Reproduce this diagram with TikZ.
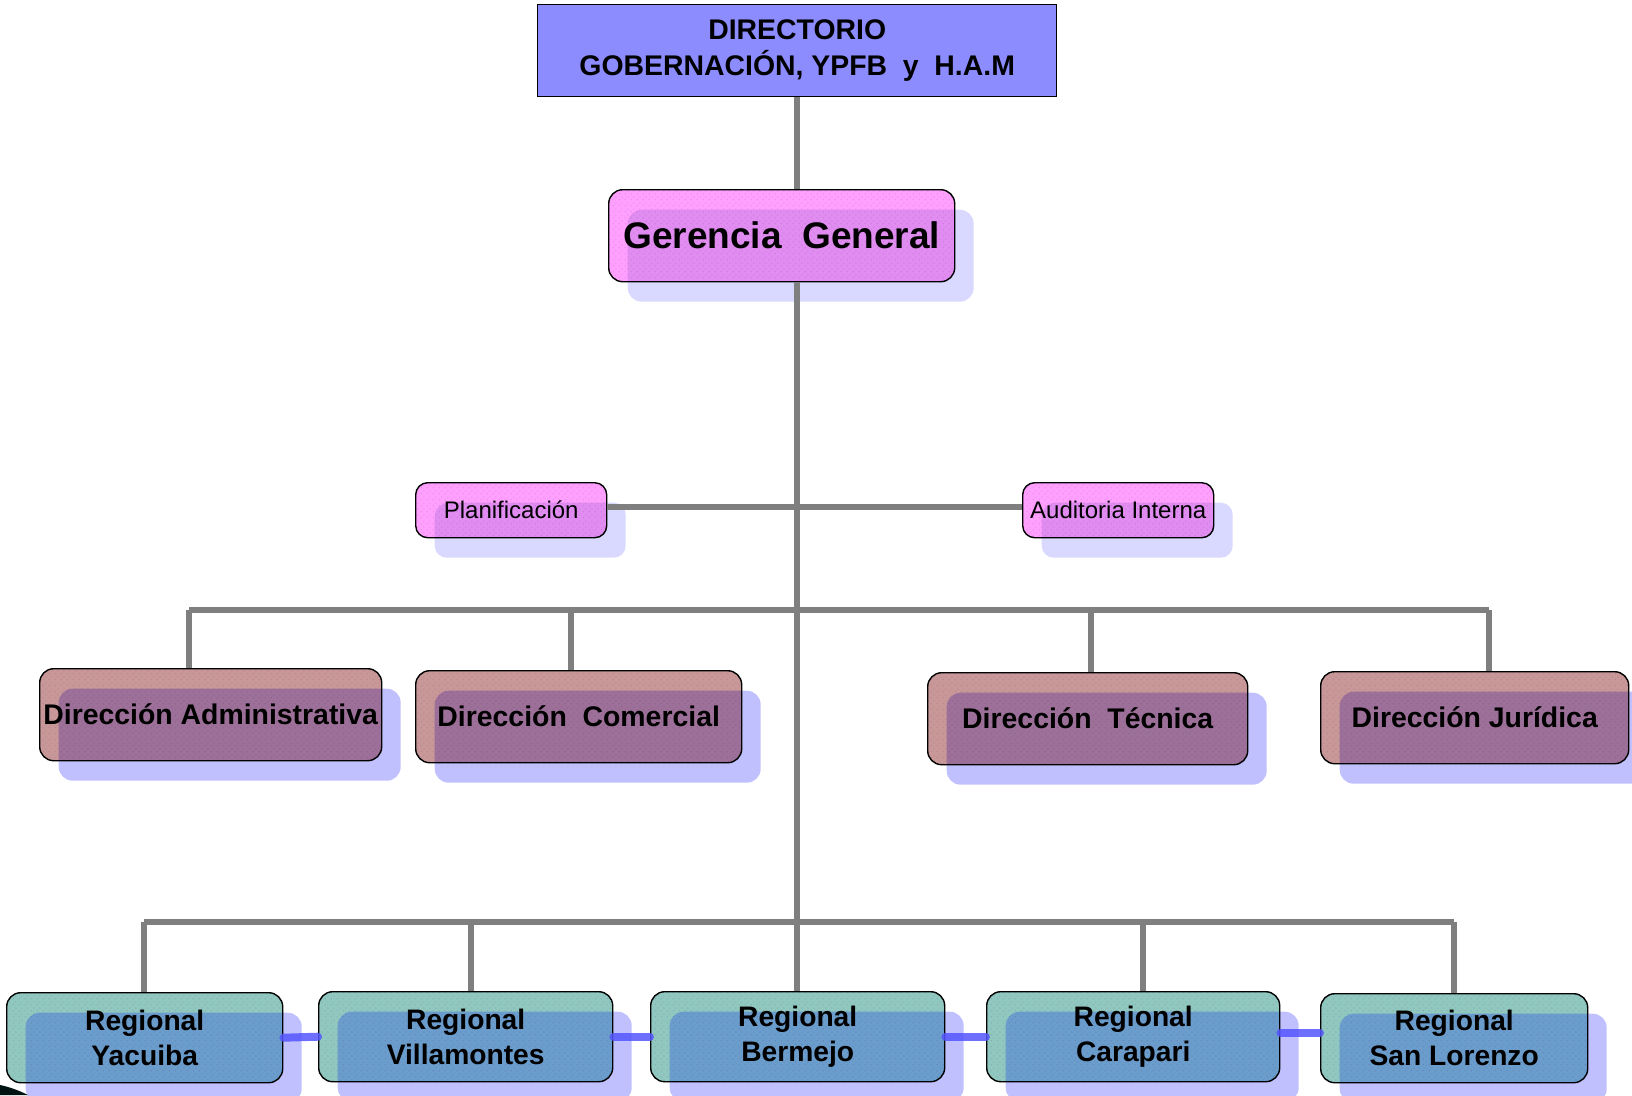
\documentclass[tikz,border=0pt]{standalone}
\usepackage{fontspec}
\setmainfont{Liberation Sans}
\usetikzlibrary{shadows,patterns}
\definecolor{dirfill}{HTML}{8C8CFF}
\definecolor{gTop}{HTML}{FFA0FF}
\definecolor{gOv}{HTML}{E08CF0}
\definecolor{gSh}{HTML}{D9D9FF}
\definecolor{dTop}{HTML}{C89898}
\definecolor{dOv}{HTML}{9C7098}
\definecolor{sSh}{HTML}{C0C0FF}
\definecolor{rTop}{HTML}{90C8C0}
\definecolor{rOv}{HTML}{6A9CCC}
\definecolor{lineGray}{HTML}{7F7F7F}
\definecolor{linkBlue}{HTML}{5555FF}
\pgfdeclarepatternformonly{sparsedots}{\pgfpointorigin}{\pgfpoint{6pt}{6pt}}{\pgfpoint{6pt}{6pt}}{%
  \pgfpathcircle{\pgfpoint{1.5pt}{1.5pt}}{0.8pt}%
  \pgfpathcircle{\pgfpoint{4.5pt}{4.5pt}}{0.8pt}%
  \pgfusepath{fill}}
\tikzset{
  orgbox/.style n args={4}{anchor=north west, draw=black, line width=1.4pt,
    rounded corners=#4, inner sep=0pt, align=center, fill=#1,
    minimum width=#2, minimum height=#3},
  shadowed/.style 2 args={general shadow={fill=#2, shadow xshift=19pt, shadow yshift=-20pt},
    path picture={\fill[#1, rounded corners=14pt]
      ([shift={(19pt,-20pt)}]path picture bounding box.south west) rectangle
      ([shift={(19pt,-20pt)}]path picture bounding box.north east);
      \fill[pattern=sparsedots, pattern color=black!70!magenta, opacity=0.13]
      (path picture bounding box.south west) rectangle (path picture bounding box.north east);}},
  bigtxt/.style={font=\fontsize{28.4}{36}\selectfont\bfseries},
  gertxt/.style={font=\fontsize{37}{44}\selectfont\bfseries},
  smalltxt/.style={font=\fontsize{24}{29}\selectfont},
  regtxt/.style={font=\fontsize{28.2}{35}\selectfont\bfseries},
  trunk/.style={draw=lineGray, line width=5.5pt},
  link/.style={draw=linkBlue, opacity=0.85, line width=8pt, line cap=round}
}
\begin{document}
\begin{tikzpicture}[x=1pt, y=-1pt]
\useasboundingbox (0,0) rectangle (1632,1095);
% top
\node[orgbox={dirfill}{519pt}{92pt}{0pt}, bigtxt] (dir) at (537,4) {DIRECTORIO\\GOBERNACIÓN, YPFB~ y~ H.A.M};
\node[orgbox={gTop}{346pt}{92pt}{14pt}, shadowed={gOv}{gSh}, gertxt] (ger) at (608,189) {Gerencia~ General};
% staff
\node[orgbox={gTop}{191pt}{55pt}{12pt}, shadowed={gOv}{gSh}, smalltxt] (plan) at (415,482) {Planificación};
\node[orgbox={gTop}{191pt}{55pt}{12pt}, shadowed={gOv}{gSh}, smalltxt] (aud) at (1022,482) {Auditoria Interna};
% direcciones
\node[orgbox={dTop}{342pt}{92pt}{14pt}, shadowed={dOv}{sSh}, bigtxt] (adm) at (39,668) {Dirección Administrativa};
\node[orgbox={dTop}{326pt}{92pt}{14pt}, shadowed={dOv}{sSh}, bigtxt] (com) at (415,670) {Dirección~ Comercial};
\node[orgbox={dTop}{320pt}{92pt}{14pt}, shadowed={dOv}{sSh}, bigtxt] (tec) at (927,672) {Dirección~ Técnica};
\node[orgbox={dTop}{308pt}{92pt}{14pt}, shadowed={dOv}{sSh}, bigtxt] (jur) at (1320,671) {Dirección Jurídica};
% regionales
\node[orgbox={rTop}{276pt}{90pt}{14pt}, shadowed={rOv}{sSh}, regtxt] (yac) at (6,992) {Regional\\Yacuiba};
\node[orgbox={rTop}{294pt}{90pt}{14pt}, shadowed={rOv}{sSh}, regtxt] (vil) at (318,991) {Regional\\Villamontes};
\node[orgbox={rTop}{294pt}{90pt}{14pt}, shadowed={rOv}{sSh}, regtxt] (ber) at (650,991) {Regional\\Bermejo};
\node[orgbox={rTop}{293pt}{90pt}{14pt}, shadowed={rOv}{sSh}, regtxt] (car) at (986,991) {Regional\\Carapari};
\node[orgbox={rTop}{267pt}{89pt}{14pt}, shadowed={rOv}{sSh}, regtxt] (slo) at (1320,993) {Regional\\San Lorenzo};
% bus coordinates
\coordinate (ua) at (189,610);
\coordinate (ub) at (571,610);
\coordinate (uc) at (1091,610);
\coordinate (ud) at (1489,610);
\coordinate (la) at (144,922);
\coordinate (lb) at (471,922);
\coordinate (ld) at (1143,922);
\coordinate (le) at (1454,922);
% gray connectors
\draw[trunk] (dir.south) -- (dir.south |- ger.north);
\draw[trunk] (dir.south |- ger.south) -- (dir.south |- ber.north);
\draw[trunk] ([yshift=3pt]plan.east) -- ([yshift=3pt]plan.east -| aud.west);
\draw[trunk] (ua) -- (ud);
\draw[trunk] (ua) -- (ua |- adm.north);
\draw[trunk] (ub) -- (ub |- com.north);
\draw[trunk] (uc) -- (uc |- tec.north);
\draw[trunk] (ud) -- (ud |- jur.north);
\draw[trunk] (la) -- (le);
\draw[trunk] (la) -- (la |- yac.north);
\draw[trunk] (lb) -- (lb |- vil.north);
\draw[trunk] (ld) -- (ld |- car.north);
\draw[trunk] (le) -- (le |- slo.north);
% blue links
\draw[link] (yac.east) -- (vil.west);
\draw[link] (vil.east) -- (ber.west);
\draw[link] (ber.east) -- (car.west);
\draw[link] ([yshift=4pt]car.east) -- ([yshift=4pt]car.east -| slo.west);
% corner swoosh
\fill[black!85!teal] (0,1085) .. controls (10,1087) and (20,1091) .. (28,1095) -- (0,1095) -- cycle;
\end{tikzpicture}
\end{document}
